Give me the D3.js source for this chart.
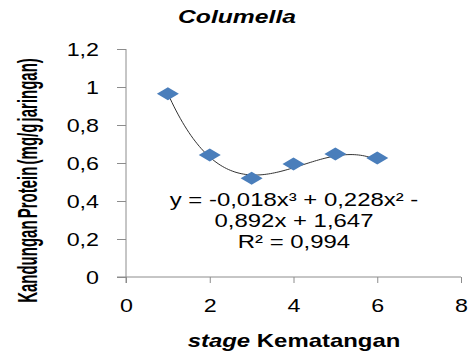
<!DOCTYPE html>
<html>
<head>
<meta charset="utf-8">
<script src="https://cdn.jsdelivr.net/npm/d3@7"></script>
<style>
  body { margin: 0; background: #fff; }
  svg { display: block; font-family: "Liberation Sans", Arial, sans-serif; }
</style>
</head>
<body>
<div id="chart"></div>
<script>
// stage vs protein content
const stages   = [1, 2, 3, 4, 5, 6];
const protein  = [0.965, 0.642, 0.52, 0.595, 0.647, 0.626];
const xTicks   = [0, 2, 4, 6, 8];
const yTicks   = [0, 0.2, 0.4, 0.6, 0.8, 1, 1.2];
// poly trendline coefficients (order 3), as printed on the chart
const coef     = [1.647, -0.892, 0.228, -0.018];
const eqLines  = ["y = -0,018x³ + 0,228x² -", "0,892x + 1,647", "R² = 0,994"];

const width = 470, height = 353;
const margin = { top: 49, right: 9, bottom: 76, left: 126 };
const innerH = height - margin.top - margin.bottom;
const sx = 1.33; // picture is stretched sideways

const svg = d3.select("#chart").append("svg")
    .attr("width", width).attr("height", height);
const g = svg.append("g").attr("transform", `translate(${margin.left},${margin.top})`);

const x = d3.scaleLinear().domain([0, 8]).range([0, 335]);
const y = d3.scaleLinear().domain([0, 1.2]).range([innerH, 0]);
const fmt = d => d3.format("")(d).replace(".", ",");

const xAxis = g.append("g").attr("transform", `translate(0,${innerH})`)
    .call(d3.axisBottom(x).tickValues(xTicks).tickFormat(fmt).tickSize(6).tickSizeOuter(0));
const yAxis = g.append("g")
    .call(d3.axisLeft(y).tickValues(yTicks).tickFormat(fmt).tickSize(9).tickSizeOuter(0));
[xAxis, yAxis].forEach(a => {
    a.selectAll("line, path").attr("stroke", "#8c8c8c");
    a.selectAll("text").style("font-size", "17.5px").style("fill", "#000")
        .attr("x", 0).attr("y", 0).attr("dy", null);
});
xAxis.selectAll("text").attr("transform", `translate(0,35) scale(${sx},1)`);
yAxis.selectAll("text").attr("dy", "0.35em").attr("transform", `translate(-27,0) scale(${sx},1)`);
yAxis.select(".domain").attr("d", `M0,0V${innerH + 6}`);
xAxis.select(".domain").attr("d", `M-9,0H${x(8)}`);

// trendline
const poly = t => coef.reduce((s, c, i) => s + c * Math.pow(t, i), 0);
const curve = d3.range(1, 6.001, 0.05).map(t => [t, poly(t)]);
g.append("path").datum(curve)
    .attr("fill", "none").attr("stroke", "#333").attr("stroke-width", 1)
    .attr("d", d3.line().x(d => x(d[0])).y(d => y(d[1])).curve(d3.curveMonotoneX));

// diamonds
g.selectAll("path.pt").data(stages).join("path").attr("class", "pt")
    .attr("transform", (d, i) => `translate(${x(d)},${y(protein[i])})`)
    .attr("d", "M-11,0L0,-6.5L11,0L0,6.5Z")
    .attr("fill", "#4a7ebb");

// equation
g.selectAll("text.eq").data(eqLines).join("text").attr("class", "eq")
    .attr("text-anchor", "middle").style("font-size", "18px")
    .attr("transform", (d, i) => `translate(168,${157 + i * 21}) scale(${sx},1)`)
    .text(d => d);

// title
svg.append("text").attr("transform", `translate(237,23) scale(1.3,1)`).attr("text-anchor", "middle")
    .style("font-size", "19px").style("font-weight", "bold").style("font-style", "italic")
    .text("Columella");

// axis labels
const xl = svg.append("text").attr("transform", `translate(294,347) scale(${sx},1)`)
    .attr("text-anchor", "middle")
    .style("font-size", "18px").style("font-weight", "bold");
xl.append("tspan").style("font-style", "italic").text("stage");
xl.append("tspan").text(" Kematangan");

svg.append("text").attr("transform", "translate(37,180.5) scale(1.85,1) rotate(-90)")
    .attr("text-anchor", "middle")
    .style("font-size", "15px").style("font-weight", "bold").style("word-spacing", "-2px")
    .text("Kandungan Protein (mg/g jaringan)");
</script>
</body>
</html>
